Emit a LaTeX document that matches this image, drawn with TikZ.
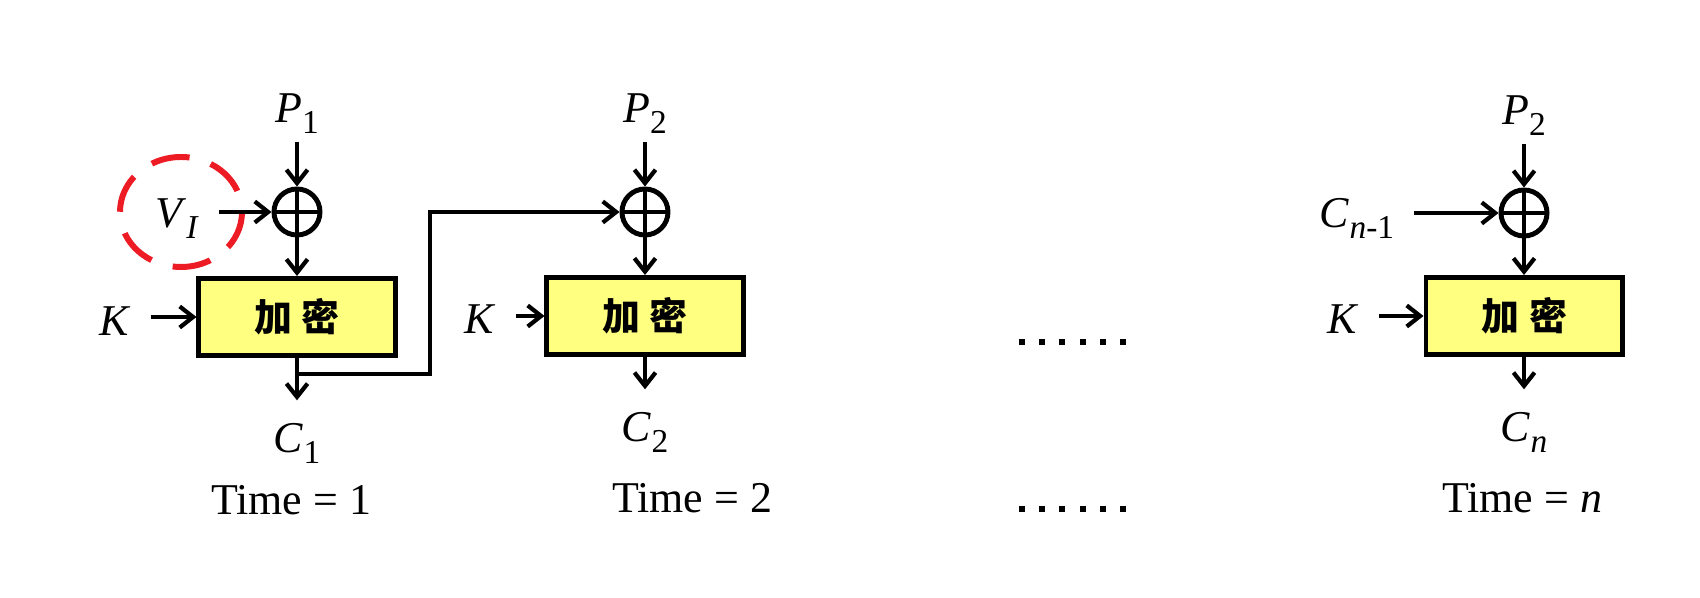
\documentclass[tikz,border=0pt]{standalone}
\usepackage{fontspec}
\setmainfont{Liberation Serif}
\newfontfamily\cjkfont{Noto Sans CJK SC}
\usetikzlibrary{arrows.meta}
\definecolor{boxyellow}{RGB}{255,255,128}
\definecolor{ivred}{RGB}{237,28,36}
\newcommand\symsub[2]{\textit{#1}\raisebox{-0.25em}{\fontsize{9.5}{10}\selectfont #2}}
\tikzset{
  arr/.style={line width=1.1pt, -{Straight Barb[length=3.8pt,width=6pt,line width=1.2pt]}},
  inarr/.style={arr, shorten <=3.5pt},
  outarr/.style={arr, shorten >=4.5pt},
  encbox/.style={draw, fill=boxyellow, line width=1.4pt, minimum width=1.96cm, minimum height=0.77cm, inner sep=0pt, font=\cjkfont\bfseries\fontsize{10.8}{11}\selectfont},
  xorop/.style={draw, circle, line width=1.4pt, minimum size=0.46cm, inner sep=0pt,
    path picture={\draw[line width=1.4pt] (path picture bounding box.north) -- (path picture bounding box.south)
      (path picture bounding box.west) -- (path picture bounding box.east);}},
  lbl/.style={anchor=base, inner sep=2pt, font=\fontsize{12.5}{13}\selectfont},
  ring/.style={draw=ivred, line width=1.7pt, dash pattern=on 11pt off 6.3pt},
}

\begin{document}
\begin{tikzpicture}[x=0.01cm, y=-0.01cm]
	\useasboundingbox (0,0) rectangle (1700,598);

	% time = 1
	\node[lbl] (p1) at (297,123) {\symsub{P}{1}};
	\node[xorop] (x1) at (297,212) {};
	\node[encbox] (box1) at (297,317) {加\hspace{0.1cm}密};
	\node[lbl] (vi) at (177,228) {\symsub{V}{\textit{I}}};
	\node[lbl] (k1) at (115,336) {\textit{K}};
	\node[lbl] (c1) at (297,453) {\symsub{C}{1}};
	\node[lbl] (t1) at (291,515) {Time = 1};
	\draw[ring] (181,212) ellipse [x radius=61, y radius=55];
	\draw[arr] (p1.south) -- (x1.north);
	\draw[inarr] (vi.east |- x1.west) -- (x1.west);
	\draw[arr] (x1.south) -- (box1.north);
	\draw[inarr] (k1.east |- box1.west) -- (box1.west);
	\draw[outarr] (box1.south) -- (c1.north);

	% time = 2
	\node[lbl] (p2) at (645,123) {\symsub{P}{2}};
	\node[xorop] (x2) at (645,212) {};
	\node[encbox] (box2) at (645,316) {加\hspace{0.1cm}密};
	\node[lbl] (k2) at (480,334) {\textit{K}};
	\node[lbl] (c2) at (645,442) {\symsub{C}{2}};
	\node[lbl] (t2) at (692,513) {Time = 2};
	\draw[arr] (p2.south) -- (x2.north);
	\draw[arr] (x2.south) -- (box2.north);
	\draw[inarr] (k2.east |- box2.west) -- (box2.west);
	\draw[outarr] (box2.south) -- (c2.north);

	% feedback C1 -> second xor
	\coordinate (tap1) at (297,374);
	\coordinate (turn1) at (430,374);
	\draw[arr] (tap1) -- (turn1) |- (x2.west);

	% dots
	\foreach \i in {0,...,5} {
		\fill (1019+\i*20.2,339) rectangle +(6,6);
		\fill (1019+\i*20.2,506) rectangle +(6,6);
	}

	% time = n
	\node[lbl] (pn) at (1524,125) {\symsub{P}{2}};
	\node[xorop] (xn) at (1524,213) {};
	\node[encbox] (boxn) at (1524,316) {加\hspace{0.1cm}密};
	\node[lbl] (cp) at (1357,228) {\symsub{C}{\textit{n}-1}};
	\node[lbl] (kn) at (1343,334) {\textit{K}};
	\node[lbl] (cn) at (1524,442) {\symsub{C}{\textit{n}}};
	\node[lbl] (tn) at (1522,513) {Time = \textit{n}};
	\draw[arr] (pn.south) -- (xn.north);
	\draw[inarr] (cp.east |- xn.west) -- (xn.west);
	\draw[arr] (xn.south) -- (boxn.north);
	\draw[inarr] (kn.east |- boxn.west) -- (boxn.west);
	\draw[outarr] (boxn.south) -- (cn.north);
\end{tikzpicture}
\end{document}
